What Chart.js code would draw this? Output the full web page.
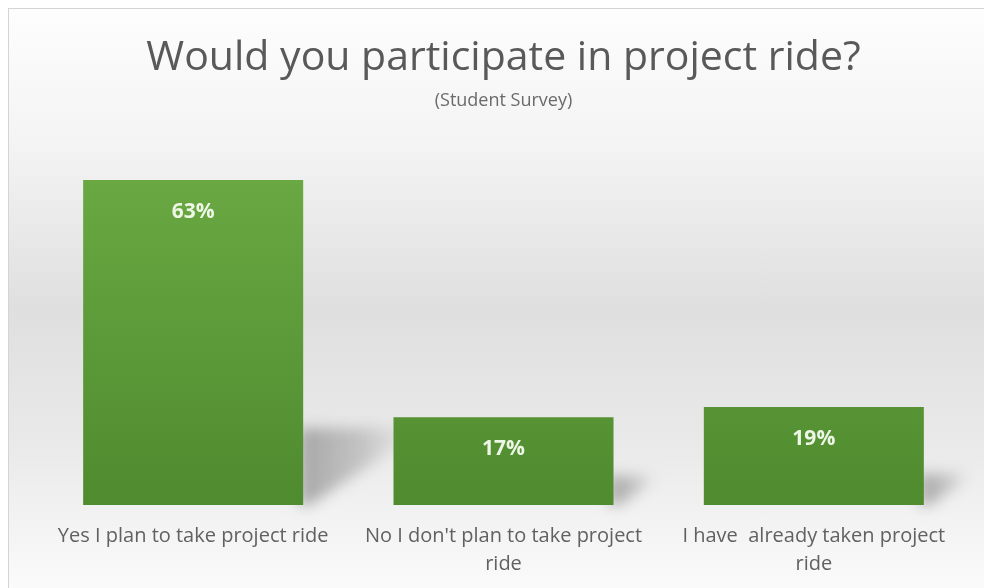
<!DOCTYPE html>
<html>
<head>
<meta charset="utf-8">
<script src="https://cdn.jsdelivr.net/npm/chart.js@4.4.1/dist/chart.umd.min.js"></script>
<style>
    html, body { margin: 0; padding: 0; background: #fff; }
    #frame {
        position: absolute; left: 8px; top: 8px; width: 990px; height: 600px;
        border-top: 1px solid #d4d4d4; border-left: 1px solid #d4d4d4;
        background: linear-gradient(to bottom, #fdfdfd 0%, #f4f4f4 22%, #dfdfdf 50%, #e9e9e9 72%, #fdfdfd 100%);
    }
    #wrap { position: absolute; left: 0; top: 0; width: 984px; height: 588px; }
</style>
</head>
<body>
<div id="frame"></div>
<div id="wrap"><canvas id="surveyChart" width="984" height="588"></canvas></div>
<script>
const categories = [
    ["Yes I plan to take project ride"],
    ["No I don't plan to take project", "ride"],
    ["I have  already taken project", "ride"]
];
const percentValues = [63, 17, 19];

// soft slanted shadow to the right of each bar
const barShadow = {
    id: "barShadow",
    beforeDatasetsDraw(chart) {
        const ctx = chart.ctx;
        const meta = chart.getDatasetMeta(0);
        ctx.save();
        ctx.filter = "blur(7px)";
        meta.data.forEach(bar => {
            const right = bar.x + bar.width / 2;
            const h = bar.base - bar.y;
            const top = bar.base - (0.2 * h + 12);
            const dx = 0.25 * h + 18;
            const g = ctx.createLinearGradient(right, 0, right + dx, 0);
            g.addColorStop(0, "rgba(150,150,150,0.8)");
            g.addColorStop(0.6, "rgba(165,165,165,0.55)");
            g.addColorStop(1, "rgba(185,185,185,0.15)");
            ctx.fillStyle = g;
            ctx.beginPath();
            ctx.moveTo(right - 4, top);
            ctx.lineTo(right + dx, top);
            ctx.lineTo(right + dx, top + (bar.base - top) * 0.2);
            ctx.lineTo(right + 6, bar.base);
            ctx.lineTo(right - 4, bar.base);
            ctx.closePath();
            ctx.fill();
        });
        ctx.restore();
    }
};

// percentage labels inside the top of each bar
const barLabels = {
    id: "barLabels",
    afterDatasetsDraw(chart) {
        const ctx = chart.ctx;
        const meta = chart.getDatasetMeta(0);
        ctx.save();
        ctx.font = "bold 21px 'Open Sans'";
        ctx.fillStyle = "#eef6e6";
        ctx.textAlign = "center";
        ctx.textBaseline = "middle";
        meta.data.forEach((bar, i) => {
            ctx.fillText(percentValues[i] + "%", bar.x, bar.y + 32);
        });
        ctx.restore();
    }
};

function greenGradient(context) {
    const chart = context.chart;
    const area = chart.chartArea;
    if (!area) return "#62a03a";
    const g = chart.ctx.createLinearGradient(0, area.top, 0, area.bottom);
    g.addColorStop(0, "#6cab44");
    g.addColorStop(1, "#4f8b2f");
    return g;
}

new Chart(document.getElementById("surveyChart"), {
    type: "bar",
    data: {
        labels: categories,
        datasets: [{
            data: percentValues,
            backgroundColor: greenGradient,
            borderWidth: 0,
            barPercentage: 0.709,
            categoryPercentage: 1
        }]
    },
    plugins: [barShadow, barLabels],
    options: {
        responsive: false,
        animation: false,
        layout: { padding: { left: 38, right: 15, top: 0, bottom: 1 } },
        scales: {
            y: { display: false, min: 0, max: 70 },
            x: {
                grid: { display: false },
                border: { display: false },
                ticks: {
                    color: "#616161",
                    font: { family: "'Open Sans'", size: 20, lineHeight: 1.4 },
                    padding: 9,
                    maxRotation: 0
                }
            }
        },
        plugins: {
            legend: { display: false },
            tooltip: { enabled: false },
            title: {
                display: true,
                text: "Would you participate in project ride?",
                color: "#595959",
                font: { family: "'Open Sans'", size: 41, weight: "normal" },
                padding: { top: 34, bottom: 0 }
            },
            subtitle: {
                display: true,
                text: "(Student Survey)",
                color: "#6a6a6a",
                font: { family: "'Open Sans'", size: 18 },
                padding: { top: 7, bottom: 32 }
            }
        }
    }
});
</script>
</body>
</html>
